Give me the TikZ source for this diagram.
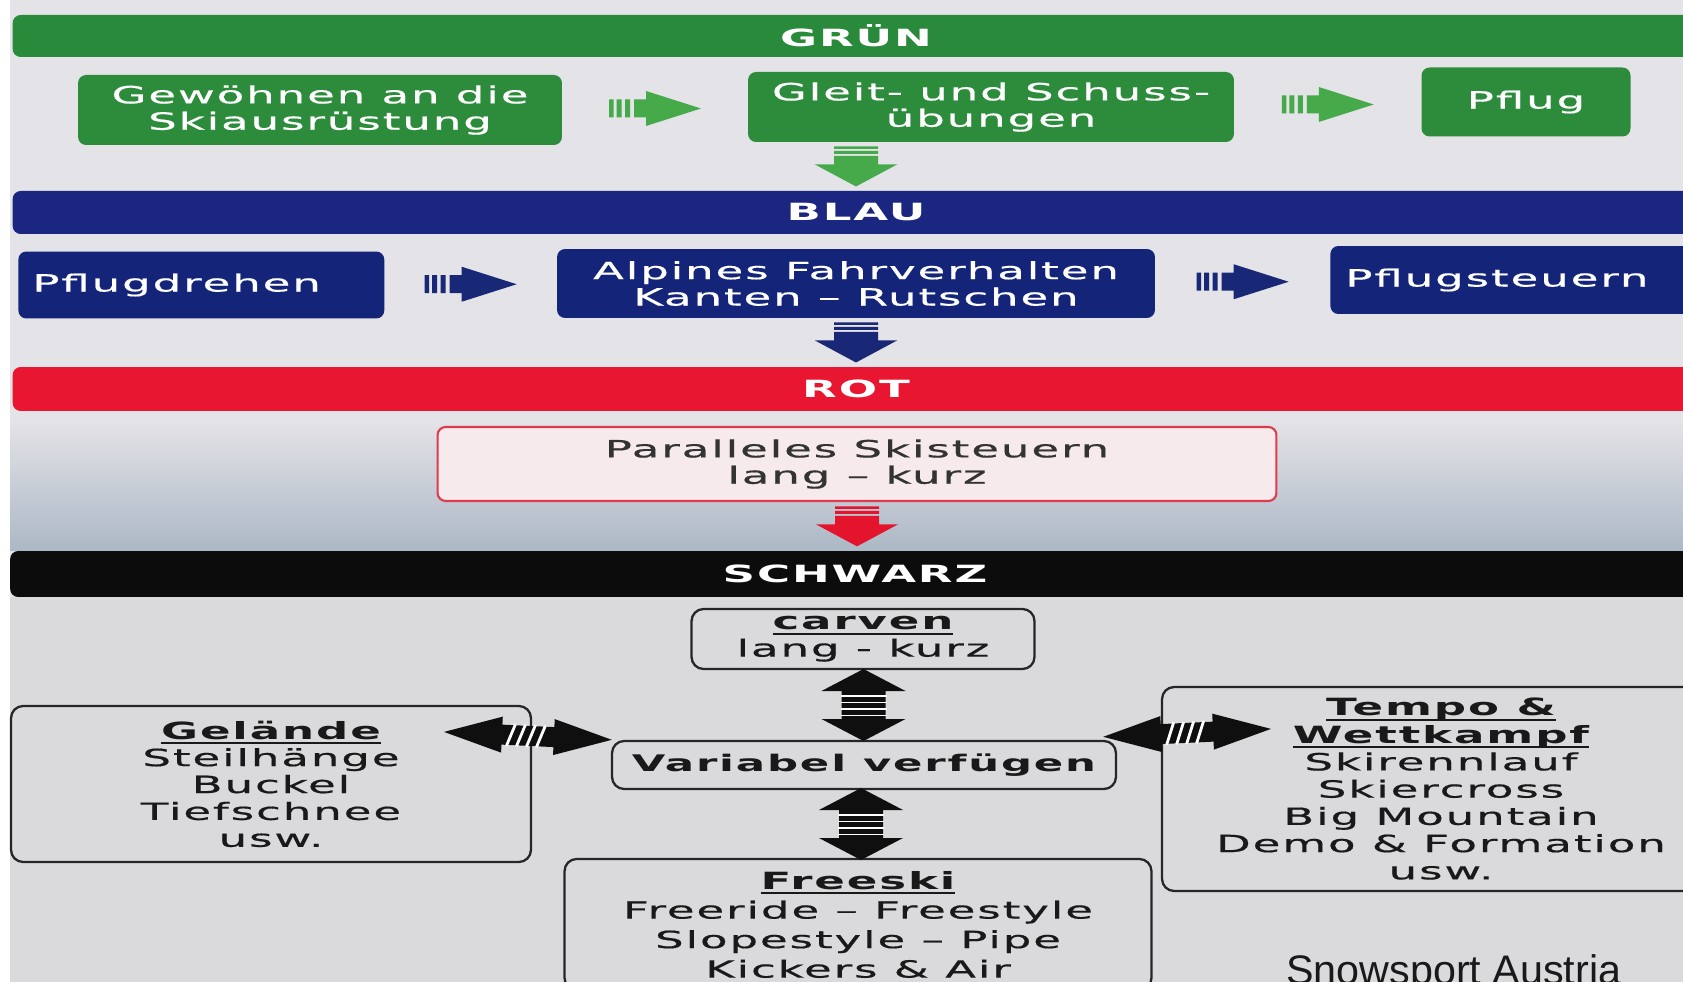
\documentclass[tikz,border=0pt]{standalone}
\usepackage{fontspec}
\usetikzlibrary{calc}
\newfontfamily\diafont{DejaVu Sans}[FakeStretch=1.9,LetterSpace=8,UprightFeatures={FakeBold=0.6}]
\newfontfamily\creditfont{Liberation Sans}
\definecolor{bgsnow}{RGB}{228,227,231}
\definecolor{bgblue}{RGB}{172,184,198}
\definecolor{bglow}{RGB}{218,218,221}
\definecolor{grnbar}{RGB}{40,138,58}
\definecolor{grnbox}{RGB}{44,140,60}
\definecolor{grnarrow}{RGB}{70,170,75}
\definecolor{bluebar}{RGB}{26,38,128}
\definecolor{bluebox}{RGB}{20,36,120}
\definecolor{bluearrow}{RGB}{24,40,118}
\definecolor{redbar}{RGB}{232,22,48}
\definecolor{redarrow}{RGB}{228,20,45}
\definecolor{pinkbox}{RGB}{247,234,236}
\definecolor{redline}{RGB}{222,60,78}
\definecolor{blackbar}{RGB}{12,12,12}
\definecolor{arrowblack}{RGB}{15,15,15}
\newcommand\headtext[1]{\setbox0=\hbox{\bfseries#1}\rlap{\vrule width\wd0 height -1.8pt depth 2.9pt}\box0}
\tikzset{
  bar/.style={rounded corners=0.16cm, minimum height=0.84cm, minimum width=33.74cm, inner sep=0pt, text=white, font=\diafont\bfseries\fontsize{13.5}{16}\selectfont},
  stage/.style={rounded corners=0.16cm, inner sep=0pt, align=center, text=white, font=\diafont\fontsize{13.5}{15}\selectfont},
  option/.style={draw=black!85, line width=1.3pt, rounded corners=0.24cm, inner sep=0pt, align=center, text=black!90, font=\diafont\fontsize{13.5}{15.3}\selectfont},
  stepright/.pic={
    \fill[#1] (-46,-9) rectangle (-41.5,9) (-38.5,-9) rectangle (-33.5,9) (-30,-9) rectangle (-25,9);
    \fill[#1] (-21,-9) -- (-9,-9) -- (-9,-17.5) -- (46,0) -- (-9,17.5) -- (-9,9) -- (-21,9) -- cycle;
  },
  stepdown/.pic={
    \fill[#1] (-22,-20) rectangle (22,-17.5) (-22,-15.5) rectangle (22,-12.5);
    \fill[#1] (-22,-10.5) -- (22,-10.5) -- (22,-2) -- (41,-2) -- (0,20) -- (-41,-2) -- (-22,-2) -- cycle;
  },
  stepupdown/.pic={
    \fill[#1] (0,-36) -- (42,-14) -- (22,-14) -- (22,14) -- (42,14) -- (0,36) -- (-42,14) -- (-22,14) -- (-22,-14) -- (-42,-14) -- cycle;
    \foreach \s in {-9,-2.5,4,10.5} \draw[white, line width=0.8pt] (-23,\s) -- (23,\s);
  },
  stepboth/.pic={
    \fill[#1] (-84,0) -- (-26,-18) -- (-26,-10) -- (26,-10) -- (26,-18) -- (84,0) -- (26,18) -- (26,10) -- (-26,10) -- (-26,18) -- cycle;
    \foreach \s in {-17,-7,3,13} \draw[white, line width=1.6pt] (\s+4,-11) -- (\s-4,11);
  },
}
\begin{document}
\begin{tikzpicture}[x=0.02cm,y=-0.02cm]
\useasboundingbox (0,0) rectangle (1683,982);
\clip (0,0) rectangle (1683,982);
\fill[bgsnow] (0,0) rectangle (1683,982);
\shade[top color=bgsnow, bottom color=bgblue] (0,420) rectangle (1683,551);
\fill[bglow] (0,597) rectangle (1683,982);
\fill[white] (0,0) rectangle (10,982);

\node[bar, fill=grnbar] (gruen) at (856,36) {GRÜN};
\node[bar, fill=bluebar, minimum height=0.86cm] (blau) at (856,212.5) {BLAU};
\node[bar, fill=redbar, minimum height=0.88cm] (rot) at (856,389) {ROT};
\node[bar, fill=blackbar, minimum height=0.92cm, minimum width=33.8cm] (schwarz) at (855,574) {SCHWARZ};

\node[stage, fill=grnbox, minimum width=9.68cm, minimum height=1.4cm] (g1) at (320,110) {Gewöhnen an die\\Skiausrüstung};
\node[stage, fill=grnbox, minimum width=9.72cm, minimum height=1.4cm] (g2) at (991,107) {Gleit- und Schuss-\\übungen};
\node[stage, fill=grnbox, minimum width=4.18cm, minimum height=1.38cm] (g3) at (1526,102) {Pflug};

\node[stage, fill=bluebox, anchor=west, text width=6.76cm, align=left, inner xsep=0.28cm, minimum height=1.34cm] (b1) at (18,285) {Pflugdrehen};
\node[stage, fill=bluebox, minimum width=11.96cm, minimum height=1.38cm] (b2) at (856,283.5) {Alpines Fahrverhalten\\Kanten – Rutschen};
\node[stage, fill=bluebox, anchor=west, text width=6.8cm, align=left, inner xsep=0.3cm, minimum height=1.36cm] (b3) at (1330,280) {Pflugsteuern};

\node[stage, fill=pinkbox, draw=redline, line width=1.2pt, text=black!80, minimum width=16.78cm, minimum height=1.48cm] (r1) at (857,464) {Paralleles Skisteuern\\lang – kurz};

\node[option, minimum width=6.86cm, minimum height=1.2cm] (carven) at (863,639) {\headtext{carven}\\lang - kurz};
\node[option, minimum width=10.08cm, minimum height=0.96cm, font=\diafont\bfseries\fontsize{13}{15.3}\selectfont] (var) at (864,765) {Variabel verfügen};
\node[option, minimum width=10.4cm, minimum height=3.12cm] (gel) at (271,784) {\headtext{Gelände}\\Steilhänge\\Buckel\\Tiefschnee\\usw.};
\node[option, minimum width=11.16cm, minimum height=4.08cm, font=\diafont\fontsize{13.5}{15.5}\selectfont] (tempo) at (1441,789) {\headtext{Tempo \&}\\\headtext{Wettkampf}\\Skirennlauf\\Skiercross\\Big Mountain\\Demo \& Formation\\usw.};
\node[option, minimum width=11.74cm, minimum height=2.62cm, font=\diafont\fontsize{13.5}{16.8}\selectfont] (free) at (858,924.5) {\headtext{Freeski}\\Freeride – Freestyle\\Slopestyle – Pipe\\Kickers \& Air};

\node[anchor=base west, inner sep=0pt, text=black!90, font=\creditfont\fontsize{23.5}{26}\selectfont] (credit) at (1286,984) {Snowsport Austria};

\path (g1.east) -- (g2.west) coordinate[midway] (ga);
\path (g2.east) -- (g3.west) coordinate[midway] (gb);
\path (b1.east) -- (b2.west) coordinate[midway] (ba);
\path (b2.east) -- (b3.west) coordinate[midway] (bb);
\path (g2.south -| blau.north) -- (blau.north) coordinate[midway] (gd);
\path (b2.south) -- (b2.south |- rot.north) coordinate[midway] (bd);
\path (r1.south) -- (r1.south |- schwarz.north) coordinate[midway] (rd);
\path (carven.south) -- (var.north) coordinate[midway] (vu);
\path (var.south) -- (free.north) coordinate[midway] (vd);
\coordinate (vl) at ($(var.north west)+(-83,-4)$);
\coordinate (vr) at ($(var.north east)+(70,-7)$);

\pic at (ga) {stepright=grnarrow};
\pic at (gb) {stepright=grnarrow};
\pic at (ba) {stepright=bluearrow};
\pic at (bb) {stepright=bluearrow};
\pic at (gd) {stepdown=grnarrow};
\pic at (bd) {stepdown=bluearrow};
\pic at (rd) {stepdown=redarrow};
\pic at (vu) {stepupdown=arrowblack};
\pic at (vd) {stepupdown=arrowblack};
\pic[rotate=-2.7] at (vl) {stepboth=arrowblack};
\pic[rotate=2.7] at (vr) {stepboth=arrowblack};
\end{tikzpicture}
\end{document}
